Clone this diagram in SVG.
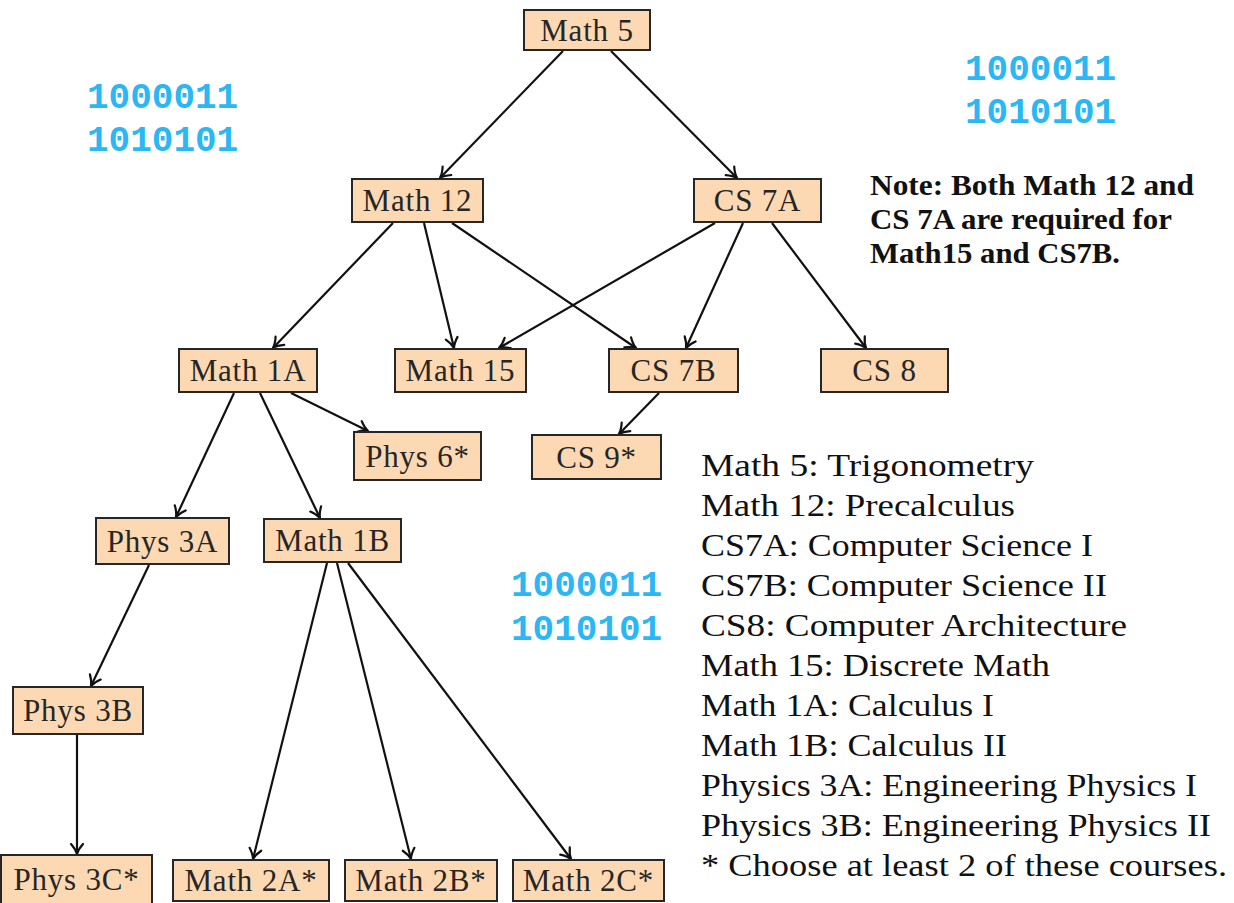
<svg xmlns="http://www.w3.org/2000/svg" width="1234" height="903" viewBox="0 0 1234 903">
<style>
.box{fill:#fdd9b3;stroke:#262626;stroke-width:2}
.lbl{font-family:"Liberation Serif",serif;font-size:31px;fill:#262626;text-anchor:middle;letter-spacing:0.8px}
.edge{stroke:#111;stroke-width:2.2;fill:none;marker-end:url(#arr)}
.bin{font-family:"Liberation Mono",monospace;font-size:36px;font-weight:bold;fill:#2bb7f3}
.note{font-family:"Liberation Serif",serif;font-size:29px;font-weight:bold;fill:#111}
.leg{font-family:"Liberation Serif",serif;font-size:31px;fill:#111}
</style>
<defs>
<marker id="arr" viewBox="-12 -8 14 16" refX="0" refY="0" markerWidth="14" markerHeight="16" markerUnits="userSpaceOnUse" orient="auto" overflow="visible">
<path d="M-10,-6 C-6,-2.5 -2.5,-0.7 0,0 C-2.5,0.7 -6,2.5 -10,6" fill="none" stroke="#111" stroke-width="2.2" stroke-linecap="round" stroke-linejoin="round"/>
</marker>
</defs>
<rect width="1234" height="903" fill="#fff"/>
<g id="connectors">
<line class="edge" x1="563" y1="51" x2="440" y2="178"/>
<line class="edge" x1="611" y1="51" x2="737" y2="178"/>
<line class="edge" x1="393" y1="223" x2="273" y2="348"/>
<line class="edge" x1="424" y1="223" x2="454" y2="348"/>
<line class="edge" x1="452" y1="223" x2="636" y2="348"/>
<line class="edge" x1="715" y1="223" x2="499" y2="348"/>
<line class="edge" x1="743" y1="223" x2="686" y2="348"/>
<line class="edge" x1="772" y1="223" x2="866" y2="348"/>
<line class="edge" x1="291" y1="393" x2="368" y2="431"/>
<line class="edge" x1="659" y1="393" x2="619" y2="434"/>
<line class="edge" x1="234" y1="393" x2="176" y2="517"/>
<line class="edge" x1="260" y1="393" x2="320" y2="518"/>
<line class="edge" x1="149" y1="565" x2="91" y2="686"/>
<line class="edge" x1="77" y1="735" x2="77" y2="854"/>
<line class="edge" x1="327" y1="563" x2="253" y2="859"/>
<line class="edge" x1="337" y1="563" x2="411" y2="859"/>
<line class="edge" x1="348" y1="563" x2="571" y2="859"/>
</g>
<g id="math5"><rect class="box" x="524" y="10" width="126" height="40"/><text class="lbl" x="587" y="40.5">Math 5</text></g>
<g id="math12"><rect class="box" x="352" y="179" width="131" height="43"/><text class="lbl" x="417.5" y="211">Math 12</text></g>
<g id="cs7a"><rect class="box" x="694" y="179" width="127" height="43"/><text class="lbl" x="757.5" y="211">CS 7A</text></g>
<g id="math1a"><rect class="box" x="179" y="349" width="138" height="43"/><text class="lbl" x="248" y="381">Math 1A</text></g>
<g id="math15"><rect class="box" x="395" y="349" width="131" height="43"/><text class="lbl" x="460.5" y="381">Math 15</text></g>
<g id="cs7b"><rect class="box" x="609" y="349" width="129" height="43"/><text class="lbl" x="673.5" y="381">CS 7B</text></g>
<g id="cs8"><rect class="box" x="821" y="349" width="127" height="43"/><text class="lbl" x="884.5" y="381">CS 8</text></g>
<g id="phys6"><rect class="box" x="354" y="432" width="127" height="48"/><text class="lbl" x="417.5" y="466.5">Phys 6*</text></g>
<g id="cs9"><rect class="box" x="532" y="435" width="129" height="44"/><text class="lbl" x="596.5" y="467.5">CS 9*</text></g>
<g id="phys3a"><rect class="box" x="96" y="518" width="133" height="46"/><text class="lbl" x="162.5" y="551.5">Phys 3A</text></g>
<g id="math1b"><rect class="box" x="264" y="519" width="137" height="43"/><text class="lbl" x="332.5" y="551">Math 1B</text></g>
<g id="phys3b"><rect class="box" x="13" y="687" width="130" height="47"/><text class="lbl" x="78" y="721">Phys 3B</text></g>
<g id="phys3c"><rect class="box" x="1" y="855" width="151" height="50"/><text class="lbl" x="76.5" y="890">Phys 3C*</text></g>
<g id="math2a"><rect class="box" x="173" y="860" width="156" height="41"/><text class="lbl" x="251" y="891">Math 2A*</text></g>
<g id="math2b"><rect class="box" x="345" y="860" width="152" height="41"/><text class="lbl" x="421" y="891">Math 2B*</text></g>
<g id="math2c"><rect class="box" x="513" y="860" width="151" height="41"/><text class="lbl" x="588.5" y="891">Math 2C*</text></g>
<g id="binary">
<text class="bin" x="87" y="108">1000011</text>
<text class="bin" x="87" y="151">1010101</text>
<text class="bin" x="965" y="80">1000011</text>
<text class="bin" x="965" y="123">1010101</text>
<text class="bin" x="511" y="596">1000011</text>
<text class="bin" x="511" y="640">1010101</text>
</g>
<g id="note">
<text class="note" x="870" y="195" textLength="324" lengthAdjust="spacingAndGlyphs">Note: Both Math 12 and</text>
<text class="note" x="870" y="229" textLength="302" lengthAdjust="spacingAndGlyphs">CS 7A are required for</text>
<text class="note" x="870" y="263" textLength="250" lengthAdjust="spacingAndGlyphs">Math15 and CS7B.</text>
</g>
<g id="legend">
<text class="leg" x="701" y="476" textLength="333" lengthAdjust="spacingAndGlyphs">Math 5: Trigonometry</text>
<text class="leg" x="701" y="516" textLength="314" lengthAdjust="spacingAndGlyphs">Math 12: Precalculus</text>
<text class="leg" x="701" y="556" textLength="392" lengthAdjust="spacingAndGlyphs">CS7A: Computer Science I</text>
<text class="leg" x="701" y="596" textLength="406" lengthAdjust="spacingAndGlyphs">CS7B: Computer Science II</text>
<text class="leg" x="701" y="636" textLength="426" lengthAdjust="spacingAndGlyphs">CS8: Computer Architecture</text>
<text class="leg" x="701" y="676" textLength="349" lengthAdjust="spacingAndGlyphs">Math 15: Discrete Math</text>
<text class="leg" x="701" y="716" textLength="293" lengthAdjust="spacingAndGlyphs">Math 1A: Calculus I</text>
<text class="leg" x="701" y="756" textLength="306" lengthAdjust="spacingAndGlyphs">Math 1B: Calculus II</text>
<text class="leg" x="701" y="796" textLength="496" lengthAdjust="spacingAndGlyphs">Physics 3A: Engineering Physics I</text>
<text class="leg" x="701" y="836" textLength="510" lengthAdjust="spacingAndGlyphs">Physics 3B: Engineering Physics II</text>
<text class="leg" x="701" y="876" textLength="526" lengthAdjust="spacingAndGlyphs">* Choose at least 2 of these courses.</text>
</g>
</svg>
